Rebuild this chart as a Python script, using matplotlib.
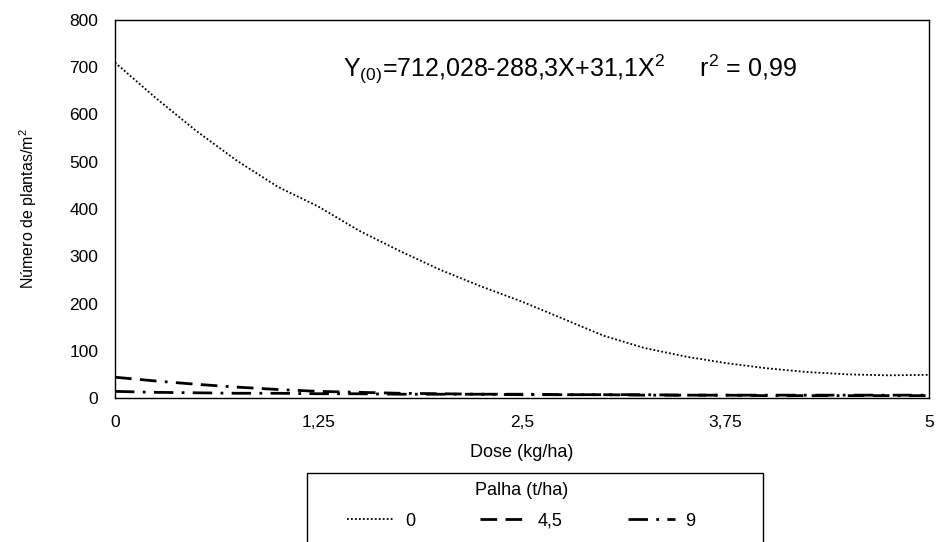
import matplotlib.pyplot as plt
from matplotlib.patches import Rectangle

plt.rcParams['font.family'] = ['Liberation Sans', 'DejaVu Sans']
plt.rcParams['mathtext.fontset'] = 'custom'
plt.rcParams['mathtext.rm'] = 'Liberation Sans'

# dose (kg/ha) and number of plants per m2
dose = [0, 0.25, 0.5, 0.75, 1.0, 1.25, 1.5, 1.75, 2.0, 2.25, 2.5,
        2.75, 3.0, 3.25, 3.5, 3.75, 4.0, 4.25, 4.5, 4.75, 5.0]
palha_0 = [710, 635, 565, 502, 447, 405, 354, 311, 271, 236, 204,
           168, 132, 106, 88, 74, 63, 55, 50, 48, 49]
palha_45 = [44, 36, 29, 23, 18, 14, 12, 10, 9, 8, 8,
            7, 7, 6, 6, 6, 5, 5, 5, 5, 5]
palha_9 = [14, 12, 11, 10, 10, 9, 9, 8, 8, 8, 7,
           7, 7, 7, 6, 6, 6, 6, 6, 6, 6]

xticks = [0, 1.25, 2.5, 3.75, 5]
xticklabels = ['0', '1,25', '2,5', '3,75', '5']
yticks = list(range(0, 801, 100))

fig = plt.figure(figsize=(9.36, 5.42), dpi=100)
ax = fig.add_axes([115 / 936, 1 - 398 / 542, (929 - 115) / 936, 378 / 542])

ax.plot(dose, palha_0, color='black', lw=1.3, linestyle=(0, (1, 1.2)), label='0')
ax.plot(dose, palha_45, color='black', lw=2.0, linestyle=(0, (6, 3, 6, 3, 1, 3)), label='4,5')
ax.plot(dose, palha_9, color='black', lw=2.0, linestyle=(0, (7, 3, 1, 3)), label='9')

ax.set_xlim(0, 5)
ax.set_ylim(0, 800)
ax.set_xticks(xticks)
ax.set_xticklabels(xticklabels)
ax.set_yticks(yticks)
ax.tick_params(length=0, labelsize=12.5)
ax.tick_params(axis='x', pad=12)
ax.tick_params(axis='y', pad=12)
for s in ax.spines.values():
    s.set_color('black')
    s.set_linewidth(1.0)

ax.set_xlabel('Dose (kg/ha)', fontsize=13, labelpad=10)
ax.set_ylabel('Número de plantas/m$^{\\mathrm{2}}$', fontsize=11.5, labelpad=22)

ax.text(0.559, 0.868,
        'Y$_{\\mathrm{(0)}}$=712,028-288,3X+31,1X$^{\\mathrm{2}}$     r$^{\\mathrm{2}}$ = 0,99',
        transform=ax.transAxes, ha='center', va='center', fontsize=18)

# legend box runs off the bottom of the image, so draw the frame by hand
box = Rectangle((307 / 936, -0.05), 456 / 936, (542 - 473) / 542 + 0.05,
                transform=fig.transFigure, fill=False, edgecolor='black',
                linewidth=1.0)
fig.patches.append(box)

leg = fig.legend(loc='upper left', bbox_to_anchor=(347 / 936, 1 - 482 / 542),
                 borderaxespad=0, borderpad=0, ncol=3, title='Palha (t/ha)',
                 fontsize=13, title_fontsize=13, frameon=False,
                 handlelength=2.6, handletextpad=0.6, columnspacing=3.6,
                 labelspacing=0.75)

fig.savefig('out.png', dpi=100)
